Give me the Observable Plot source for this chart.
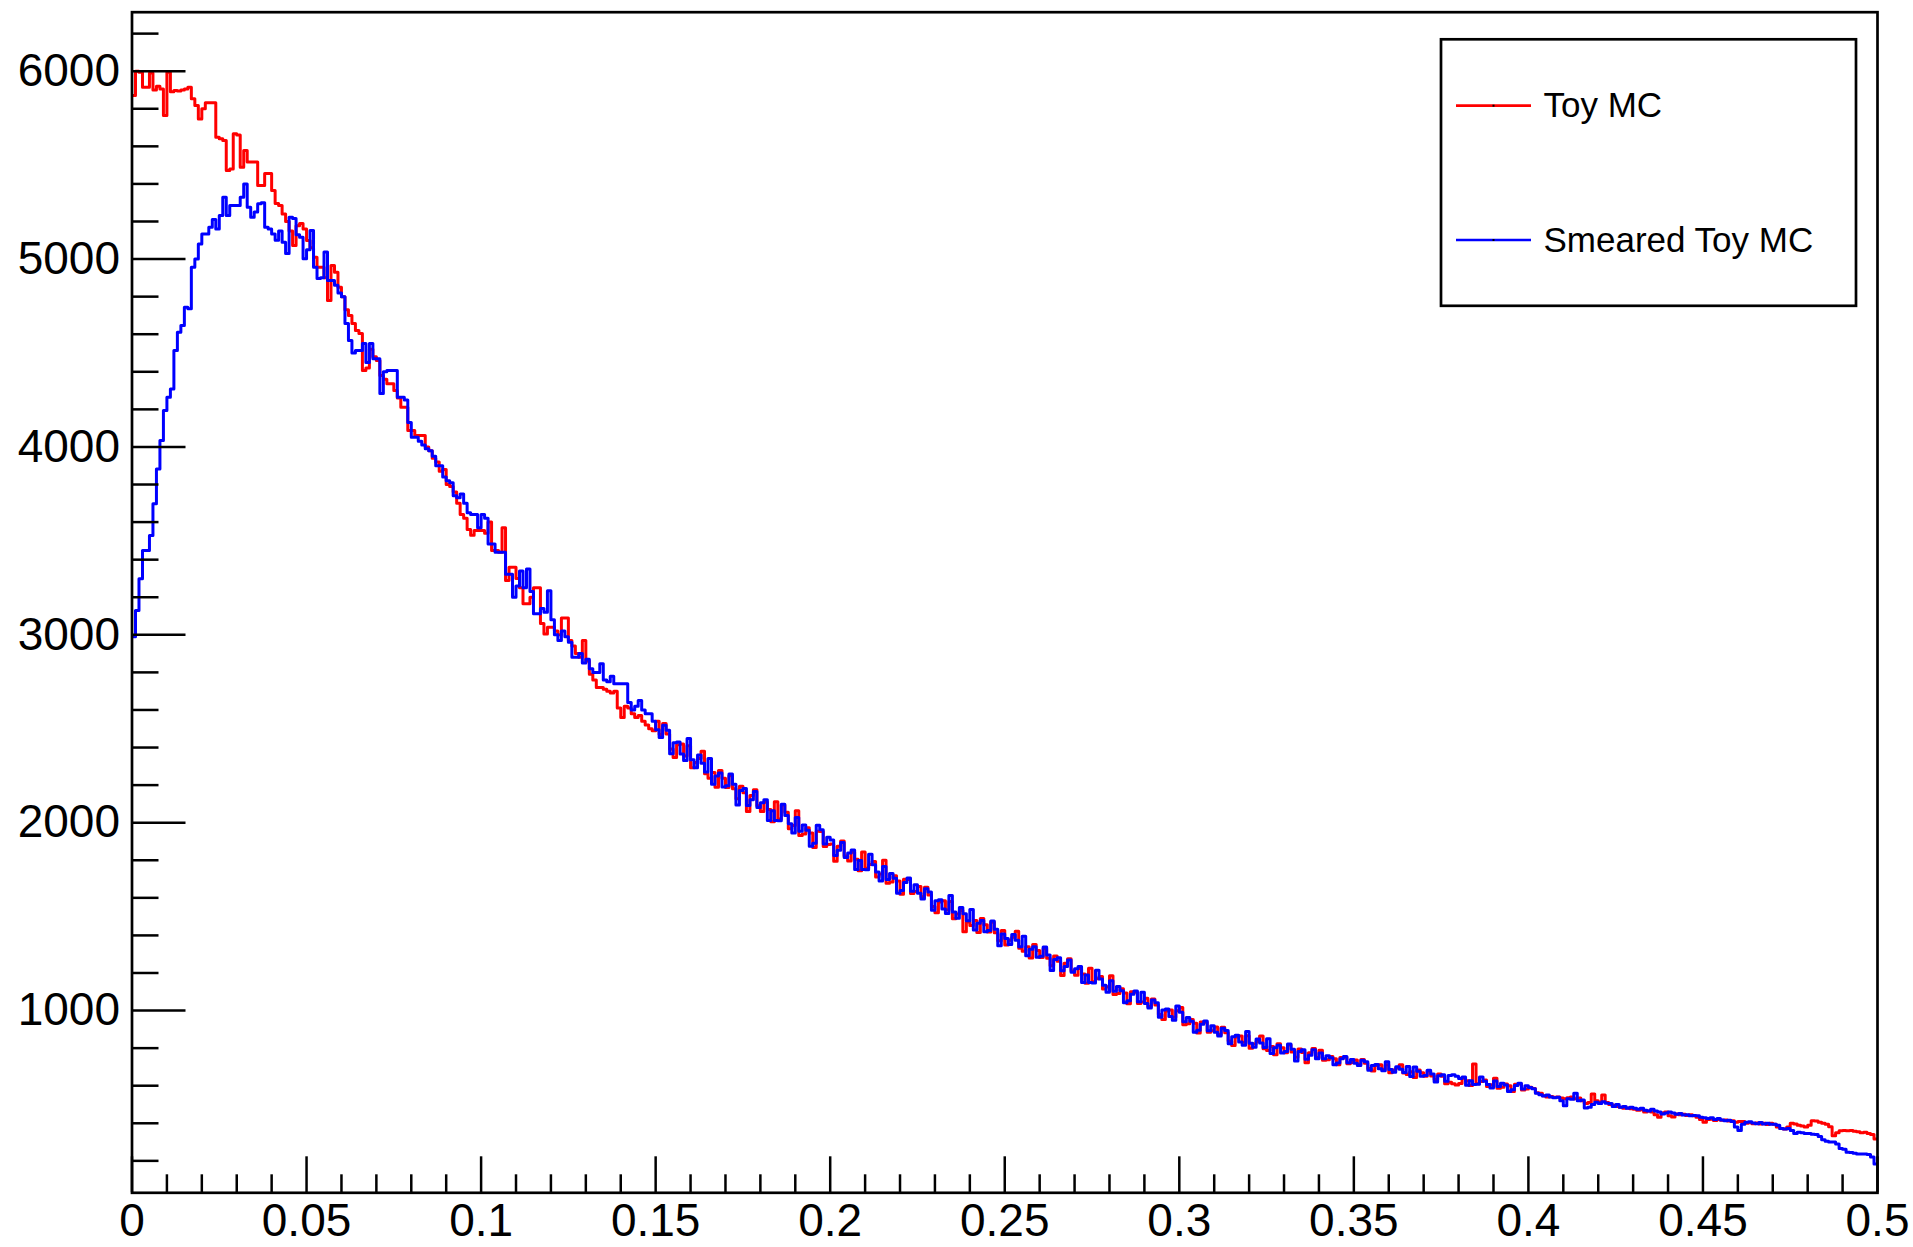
<!DOCTYPE html>
<html><head><meta charset="utf-8">
<script src="https://cdn.jsdelivr.net/npm/d3@7"></script>
<script src="https://cdn.jsdelivr.net/npm/@observablehq/plot@0.6"></script>
<style>html,body{margin:0;padding:0;background:#fff;}#chart{width:1913px;height:1247px;}</style>
</head><body><div id="chart"></div>
<script>
// ---------- data (bin contents, 500 bins over [0, 0.5]) ----------
const xMin = 0, xMax = 0.5;
const seriesNames = ["Toy MC", "Smeared Toy MC"];
const seriesColors = ["#ff0000", "#0000ff"];
const toyMC = [
5870,6000,5995,5915,5915,5990,5900,5920,5905,5764,
5995,5890,5897,5895,5900,5905,5915,5853,5817,5746,
5800,5832,5832,5832,5649,5640,5631,5471,5480,5667,
5660,5489,5578,5516,5516,5516,5391,5391,5455,5455,
5365,5296,5285,5240,5200,5150,5072,5178,5189,5160,
5099,5060,5010,4957,4957,4900,4779,4966,4930,4850,
4800,4730,4700,4657,4620,4604,4407,4420,4520,4480,
4460,4380,4360,4337,4337,4300,4260,4211,4211,4087,
4087,4061,4061,4061,4000,3980,3940,3920,3870,3880,
3800,3790,3760,3700,3640,3620,3560,3530,3555,3555,
3555,3540,3600,3449,3449,3440,3570,3289,3360,3360,
3300,3250,3165,3165,3200,3250,3250,3060,3005,3040,
3040,3020,3000,3090,3090,2970,2940,2900,2880,2970,
2860,2790,2760,2720,2720,2710,2700,2690,2700,2610,
2560,2620,2610,2580,2560,2570,2540,2520,2500,2490,
2540,2469,2528,2472,2392,2347,2415,2419,2355,2409,
2292,2321,2341,2380,2260,2237,2267,2188,2278,2237,
2187,2250,2181,2127,2194,2159,2060,2145,2175,2090,
2060,2109,2070,2005,2111,2019,2094,2056,1968,1985,
2064,1932,1940,1973,1945,1868,1955,1953,1873,1884,
1887,1795,1874,1903,1823,1796,1842,1806,1744,1844,
1758,1778,1793,1711,1727,1800,1678,1684,1717,1690,
1619,1699,1698,1623,1634,1660,1606,1657,1615,1554,
1520,1578,1585,1535,1581,1489,1514,1532,1420,1471,
1453,1479,1415,1490,1457,1418,1470,1414,1371,1426,
1349,1374,1390,1422,1332,1316,1340,1280,1351,1320,
1282,1331,1278,1238,1290,1263,1187,1252,1276,1211,
1188,1224,1194,1145,1225,1154,1169,1181,1115,1127,
1185,1086,1091,1116,1094,1036,1100,1098,1037,1045,
1066,1022,1062,1029,979,953,998,1003,964,999,
1016,924,930,952,933,880,939,938,884,892,
912,873,911,882,838,814,859,865,831,866,
800,822,837,865,797,788,809,765,823,802,
776,817,780,751,795,777,722,776,798,750,
789,735,738,755,743,711,750,751,717,723,
737,713,739,720,692,678,707,711,688,712,
669,683,694,711,667,660,674,644,683,669,
650,678,652,633,662,650,611,618,610,604,
612,640,627,601,716,611,622,631,596,605,
640,587,592,609,600,569,608,609,577,583,
592,585,562,560,546,540,542,538,540,534,
530,536,540,530,534,520,505,510,556,520,
512,550,510,500,496,490,486,480,482,478,
475,470,472,460,466,460,445,432,455,460,
440,434,450,446,448,442,446,440,432,420,
405,420,422,415,420,416,418,412,414,405,
410,410,400,404,398,402,396,400,394,400,
395,380,372,370,380,400,396,390,385,380,
390,414,412,405,400,395,382,334,350,360,
361,360,362,358,355,350,352,345,340,317
];
const smearedToyMC = [
2990,3130,3298,3449,3449,3528,3697,3883,4034,4194,
4265,4309,4513,4611,4646,4744,4735,4957,5000,5080,
5134,5134,5170,5210,5160,5232,5329,5232,5285,5285,
5285,5329,5400,5276,5223,5250,5294,5300,5170,5160,
5134,5100,5150,5090,5030,5223,5216,5130,5116,5002,
5050,5152,4957,4896,4900,5037,4886,4886,4860,4820,
4800,4657,4566,4500,4513,4513,4550,4450,4550,4470,
4470,4284,4400,4407,4407,4407,4265,4265,4250,4130,
4051,4051,4030,4010,3990,3980,3950,3900,3900,3840,
3820,3810,3740,3730,3750,3700,3650,3640,3640,3570,
3640,3620,3484,3484,3440,3440,3440,3322,3322,3200,
3260,3340,3250,3350,3230,3112,3112,3140,3120,3235,
3080,3000,2970,3020,2990,2960,2880,2880,2900,2850,
2870,2820,2800,2800,2846,2760,2750,2780,2740,2740,
2740,2740,2640,2600,2620,2650,2600,2580,2580,2540,
2495,2454,2518,2492,2367,2425,2430,2365,2331,2448,
2335,2293,2360,2317,2270,2342,2204,2249,2264,2190,
2196,2259,2205,2094,2171,2182,2092,2122,2166,2081,
2106,2122,2012,2064,2012,2010,2098,2038,1995,1945,
2028,1954,1988,1960,1875,1890,1986,1962,1886,1923,
1908,1825,1853,1894,1815,1839,1854,1751,1799,1751,
1750,1832,1776,1737,1689,1767,1698,1730,1704,1624,
1639,1682,1706,1635,1670,1624,1594,1649,1631,1534,
1584,1590,1541,1516,1612,1524,1491,1548,1515,1478,
1538,1429,1465,1479,1419,1426,1477,1433,1345,1407,
1383,1351,1405,1374,1339,1396,1292,1327,1340,1284,
1289,1338,1296,1213,1272,1281,1212,1234,1269,1204,
1222,1234,1149,1189,1150,1147,1214,1168,1135,1097,
1159,1103,1128,1106,1041,1052,1087,1104,1047,1097,
1037,1013,1056,1041,964,1003,1008,968,948,1024,
991,940,963,943,884,895,927,944,893,919,
885,864,906,894,823,861,868,833,816,889,
826,805,849,828,803,850,772,802,815,774,
782,822,794,732,782,791,741,762,792,744,
774,744,759,749,712,721,743,755,722,740,
720,708,735,727,682,708,713,690,679,727,
686,672,701,687,670,702,649,700,677,650,
654,682,662,620,653,659,624,655,659,650,
638,646,602,626,607,608,646,624,607,588,
625,596,613,604,569,579,601,613,582,600,
590,584,560,552,545,550,540,536,538,520,
494,530,528,560,520,524,482,486,500,512,
505,515,506,505,490,500,486,490,480,485,
480,475,480,470,465,475,466,460,450,455,
460,455,448,452,444,446,440,442,440,432,
430,425,430,420,425,418,414,416,410,380,
361,395,405,408,402,398,404,396,400,395,
395,390,372,370,372,362,345,352,350,346,
345,342,340,330,312,305,300,300,290,266,
262,246,245,240,236,236,236,234,220,183
];
const xTickValues = [0, 0.05, 0.1, 0.15, 0.2, 0.25, 0.3, 0.35, 0.4, 0.45, 0.5];
const xTickLabels = ["0", "0.05", "0.1", "0.15", "0.2", "0.25", "0.3", "0.35", "0.4", "0.45", "0.5"];
const xMinorTicks = [0.01,0.02,0.03,0.04,0.06,0.07,0.08,0.09,0.11,0.12,0.13,0.14,0.16,0.17,0.18,0.19,0.21,0.22,0.23,0.24,0.26,0.27,0.28,0.29,0.31,0.32,0.33,0.34,0.36,0.37,0.38,0.39,0.41,0.42,0.43,0.44,0.46,0.47,0.48,0.49];
const yTickValues = [1000, 2000, 3000, 4000, 5000, 6000];
const yMinorTicks = [200,400,600,800,1200,1400,1600,1800,2200,2400,2600,2800,3200,3400,3600,3800,4200,4400,4600,4800,5200,5400,5600,5800,6200];
const yDomain = [30, 6314];

// ---------- layout ----------
const W = 1913, H = 1247;
const mL = 131.5, mR = 36, mT = 11.7, mB = 54.7;
const innerW = W - mL - mR, innerH = H - mT - mB;
const FONT = '"Liberation Sans", Helvetica, Arial, sans-serif';

function histPoints(values, name) {
  const w = (xMax - xMin) / values.length;
  const pts = values.map((v, i) => ({x: xMin + i * w, y: v, series: name}));
  pts.push({x: xMax, y: values[values.length - 1], series: name});
  return pts;
}
const toyPts = histPoints(toyMC, seriesNames[0]);
const smearPts = histPoints(smearedToyMC, seriesNames[1]);

const chart = Plot.plot({
  width: W, height: H,
  marginLeft: mL, marginRight: mR, marginTop: mT, marginBottom: mB,
  style: {fontFamily: FONT, fontSize: "46px", color: "#000", background: "#fff"},
  x: {domain: [xMin, xMax], label: null},
  y: {domain: yDomain, label: null},
  marks: [
    Plot.line(toyPts, {x: "x", y: "y", curve: "step-after", stroke: seriesColors[0], strokeWidth: 3, clip: true}),
    Plot.line(smearPts, {x: "x", y: "y", curve: "step-after", stroke: seriesColors[1], strokeWidth: 3, clip: true}),
    Plot.tickX(xTickValues, {x: d => d, insetTop: innerH - 36, stroke: "#000", strokeWidth: 2.5}),
    Plot.tickX(xMinorTicks, {x: d => d, insetTop: innerH - 18, stroke: "#000", strokeWidth: 2.5}),
    Plot.tickY(yTickValues, {y: d => d, insetRight: innerW - 54, stroke: "#000", strokeWidth: 2.5}),
    Plot.tickY(yMinorTicks, {y: d => d, insetRight: innerW - 27, stroke: "#000", strokeWidth: 2.5}),
    Plot.axisX({ticks: xTickValues, tickSize: 0, tickPadding: 11, fontSize: 46, label: null,
      tickFormat: d => xTickLabels[xTickValues.indexOf(d)]}),
    Plot.axisY({ticks: yTickValues, tickSize: 0, tickPadding: 12, fontSize: 46, label: null,
      tickFormat: d => String(d)}),
    Plot.frame({stroke: "#000", strokeWidth: 2.7})
  ]
});
document.getElementById("chart").appendChild(chart);

// ---------- legend (ROOT TLegend style) ----------
const svg = d3.select(chart);
const boxW = 415, boxH = 266.5;
const boxX = mL + innerW - 21 - boxW, boxY = mT + 27.6;
const lg = svg.append("g").attr("text-anchor", "start");
lg.append("rect").attr("x", boxX).attr("y", boxY).attr("width", boxW).attr("height", boxH)
  .attr("fill", "#fff").attr("stroke", "#000").attr("stroke-width", 2.7);
const rowY = [boxY + 66.4, boxY + 200.7];
seriesNames.forEach((name, i) => {
  const y = rowY[i];
  lg.append("line").attr("x1", boxX + 15).attr("x2", boxX + 90).attr("y1", y).attr("y2", y)
    .attr("stroke", seriesColors[i]).attr("stroke-width", 2.7);
  lg.append("rect").attr("x", boxX + 51.5).attr("y", y - 1).attr("width", 2).attr("height", 2).attr("fill", "#000");
  lg.append("text").attr("x", boxX + 102.5).attr("y", y + 11.5).attr("text-anchor", "start")
    .attr("font-family", FONT).attr("font-size", 35).attr("fill", "#000").text(name);
});
</script>
</body></html>
